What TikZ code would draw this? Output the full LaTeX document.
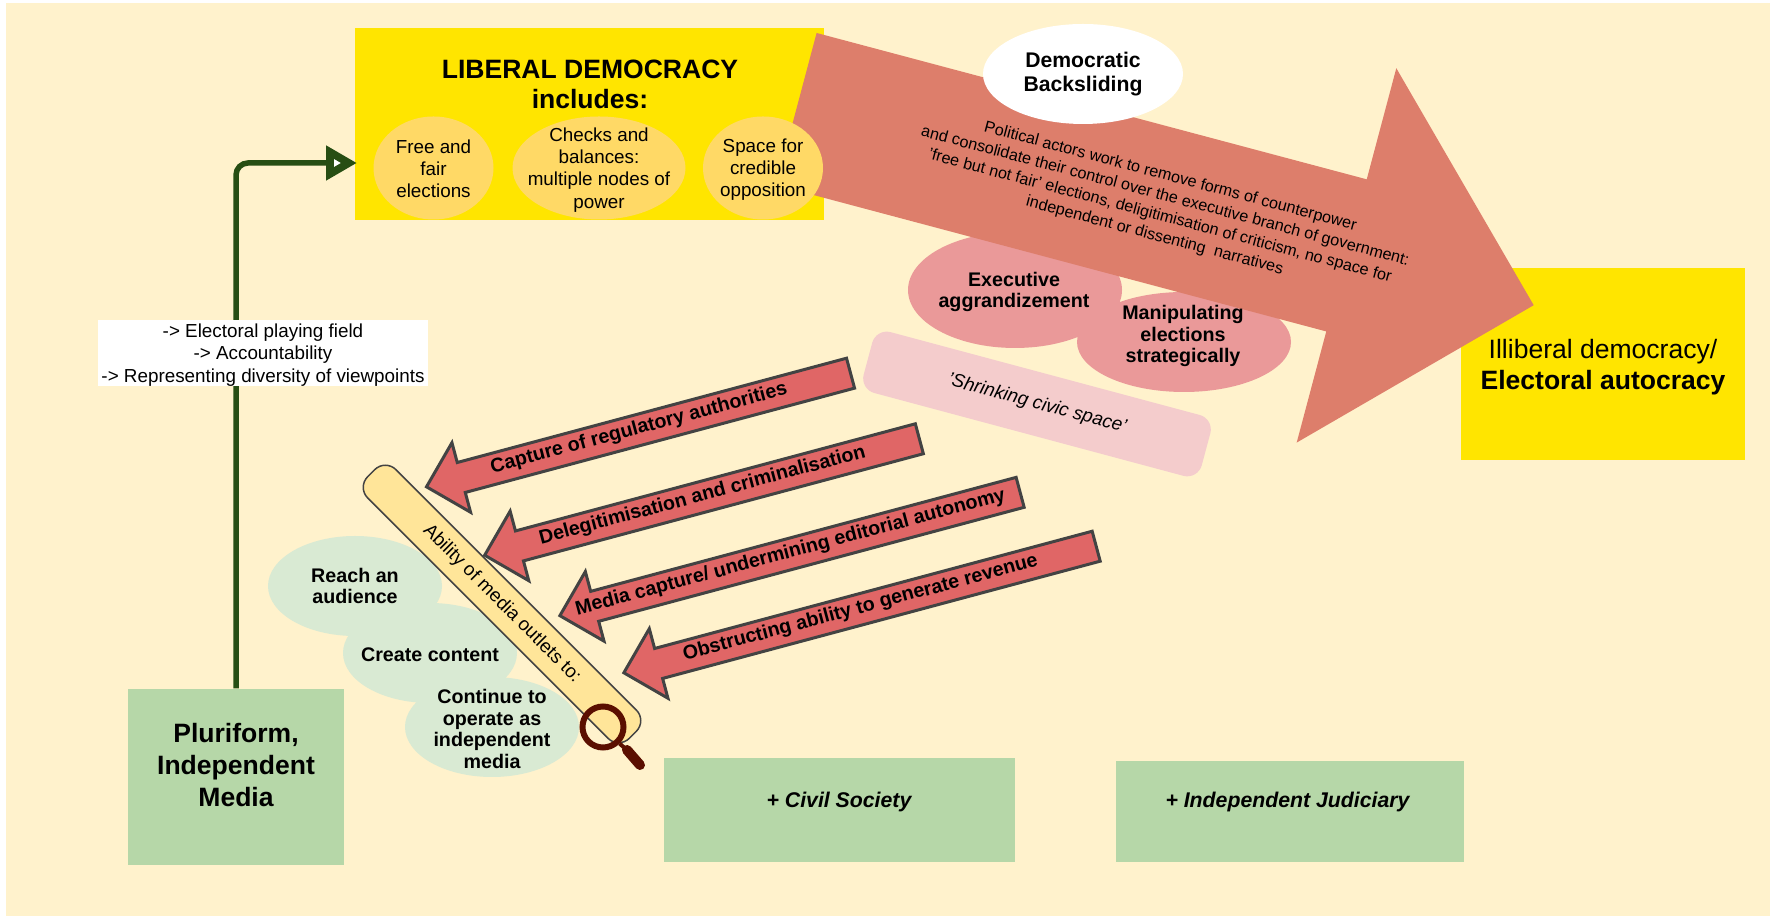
\documentclass[tikz,border=0pt]{standalone}
\usepackage{fontspec}
\setmainfont{Liberation Sans}
\usepackage{xcolor}
\usetikzlibrary{arrows.meta, positioning, shapes.geometric, shapes.arrows}
\definecolor{paper}{RGB}{255, 242, 204}
\definecolor{boxyellow}{RGB}{255, 229, 0}
\definecolor{ovalyellow}{RGB}{255, 217, 102}
\definecolor{barsalmon}{RGB}{221, 126, 107}
\definecolor{ovalred}{RGB}{234, 153, 153}
\definecolor{palered}{RGB}{244, 204, 204}
\definecolor{arrowred}{RGB}{224, 102, 102}
\definecolor{edgegray}{RGB}{67, 67, 67}
\definecolor{palegreen}{RGB}{217, 234, 211}
\definecolor{boxgreen}{RGB}{182, 215, 168}
\definecolor{darkgreen}{RGB}{39, 78, 19}
\definecolor{barcream}{RGB}{255, 229, 153}
\definecolor{lensbrown}{RGB}{91, 15, 0}
\newcommand{\fsbase}{\fontsize{5.36}{6.3}\selectfont}
\newcommand{\fsbold}{\fontsize{5.6}{6.2}\selectfont\bfseries}
\newcommand{\fslarge}{\fontsize{7.55}{9.1}\selectfont\bfseries}
\newcommand{\fspillar}{\fontsize{6.05}{7}\selectfont\bfseries\itshape}

\begin{document}
\begin{tikzpicture}[
    box/.style={rectangle, inner sep=0pt, align=center},
    oval/.style={ellipse, inner sep=0pt},
    word/.style={inner sep=0pt, align=center},
    yellowoval/.style={oval, fill=ovalyellow, minimum width=1.20cm, minimum height=1.03cm},
    redoval/.style={oval, fill=ovalred, minimum width=2.14cm},
    greenoval/.style={oval, fill=palegreen, minimum width=1.74cm, minimum height=1.00cm},
    greenbox/.style={box, fill=boxgreen},
    redarrow/.style={single arrow, draw=edgegray, line width=0.3mm, fill=arrowred, shape border rotate=180, rotate=15,
        single arrow head extend=.205cm, single arrow tip angle=90, inner xsep=0pt, inner ysep=0pt,
        text height=.18cm, text depth=.10cm, font=\fsbold, execute at end node={\kern.14cm}}
]

\useasboundingbox (0,0) rectangle (17.75,-9.16);
\fill[paper] (0.06,-0.03) rectangle (17.70,-9.16);

% Liberal democracy
\node[box, fill=boxyellow, minimum width=4.69cm, minimum height=1.92cm] (lib) at (5.895,-1.24) {};
\node[word, font=\fontsize{7.55}{8.5}\selectfont\bfseries] (libtitle) at (5.90,-0.84) {LIBERAL DEMOCRACY\\includes:};

% Illiberal democracy
\node[box, fill=boxyellow, minimum width=2.84cm, minimum height=1.92cm] (illib) at (16.03,-3.64) {};
\node[word, font=\fontsize{7.55}{8.7}\selectfont] (illibtext) at (16.03,-3.67) {Illiberal democracy/\\\textbf{Electoral autocracy}};

% Ovals under the arrow
\node[redoval, minimum height=1.16cm] (exec) at (10.15,-2.90) {};
\node[redoval, minimum height=1.00cm] (manip) at (11.84,-3.42) {};

% Backsliding arrow
\node[single arrow, fill=barsalmon, rotate=-14.9, minimum height=7.63cm, single arrow head extend=1.15cm,
    single arrow tip angle=90, inner xsep=0pt, inner ysep=.78cm] (slide) at (11.27,-1.97) {};
\node[word, rotate=-14.9, font=\fontsize{4.6}{5.8}\selectfont] (slidetext) at (11.625,-2.065)
    {Political actors work to remove forms of counterpower\\
     and consolidate their control over the executive branch of government:\\
     'free but not fair' elections, deligitimisation of criticism, no space for\\
     independent or dissenting\ \ narratives};

\node[oval, fill=white, minimum width=2.00cm, minimum height=1.00cm] (back) at (10.83,-0.74) {};
\node[word, font=\fontsize{6.03}{6.7}\selectfont\bfseries] (backtext) at (back) {Democratic\\Backsliding};

\node[yellowoval] (free) at (4.335,-1.68) {};
\node[yellowoval, minimum width=1.73cm] (checks) at (5.99,-1.68) {};
\node[yellowoval] (space) at (7.63,-1.68) {};
\node[word, font=\fsbase] (freetext) at (4.335,-1.69) {Free and\\fair\\elections};
\node[word, font=\fsbase] (checkstext) at (5.99,-1.70) {Checks and\\balances:\\multiple nodes of\\power};
\node[word, font=\fsbase] (spacetext) at (7.63,-1.70) {Space for\\credible\\opposition};

\node[word, font=\fsbold] (exectext) at (10.14,-2.92) {Executive\\aggrandizement};
\node[word, font=\fsbold] (maniptext) at (11.83,-3.36) {Manipulating\\elections\\strategically};

% Shrinking civic space
\node[box, fill=palered, rounded corners=1.5mm, rotate=-15, minimum width=3.50cm, minimum height=.63cm, font=\fsbase\itshape] (shrink) at (10.37,-4.04) {'Shrinking civic space'};

% Media and the other pillars
\node[greenbox, minimum width=2.16cm, minimum height=1.76cm] (plural) at (2.36,-7.77) {};
\node[word, font=\fslarge] (pluraltext) at (2.36,-7.65) {Pluriform,\\Independent\\Media};
\node[greenbox, minimum width=3.51cm, minimum height=1.04cm] (civil) at (8.39,-8.10) {};
\node[word, font=\fspillar] (civiltext) at (8.39,-8.02) {+ Civil Society};
\node[greenbox, minimum width=3.48cm, minimum height=1.01cm] (judic) at (12.90,-8.115) {};
\node[word, font=\fspillar] (judictext) at (12.875,-8.02) {+ Independent Judiciary};

% Connector to liberal democracy
\coordinate (libentry) at (3.57,-1.63);
\draw[darkgreen, line width=.055cm, rounded corners=.12cm, -{Triangle[open, length=.31cm, width=.33cm, fill=white, line width=.09cm]}] (plural.north) |- (libentry);
\node[box, fill=white, minimum width=3.30cm, minimum height=.66cm] (effects) at (2.63,-3.53) {};
\node[word, font=\fsbase] (effectstext) at (2.63,-3.55) {-> Electoral playing field\\-> Accountability\\-> Representing diversity of viewpoints};

% Ability of media outlets
\node[greenoval] (reach) at (3.55,-5.86) {};
\node[greenoval] (create) at (4.30,-6.53) {};
\node[greenoval] (cont) at (4.92,-7.27) {};
\node[word, font=\fsbold] (reachtext) at (reach) {Reach an\\audience};
\node[word, font=\fsbold] (createtext) at (4.30,-6.55) {Create content};
\node[word, font=\fsbold] (conttext) at (4.92,-7.29) {Continue to\\operate as\\independent\\media};
\node[box, fill=barcream, draw=edgegray, line width=0.15mm, rounded corners=1.5mm, rotate=-45, minimum width=3.70cm, minimum height=.40cm, font=\fsbase] (ability) at (5.02,-6.04) {Ability of media outlets to:};

% Magnifier
\node[circle, draw=lensbrown, line width=.06cm, minimum size=.41cm, inner sep=0pt] (lens) at (6.03,-7.27) {};
\coordinate (grip) at (6.27,-7.50);
\coordinate (gripend) at (6.40,-7.65);
\draw[lensbrown, line width=.04cm] (lens.-45) -- (grip);
\draw[lensbrown, line width=.10cm, line cap=round] (grip) -- (gripend);

% Attacks on media
\node[redarrow, minimum height=4.39cm] (regul) at (6.46,-4.28) {Capture of regulatory authorities};
\node[redarrow, minimum height=4.50cm] (delegit) at (7.095,-4.95) {Delegitimisation and criminalisation};
\node[redarrow, minimum height=4.74cm] (capture) at (7.975,-5.52) {Media capture/ undermining editorial autonomy};
\node[redarrow, minimum height=4.89cm] (revenue) at (8.675,-6.075) {Obstructing ability to generate revenue};

\end{tikzpicture}
\end{document}
